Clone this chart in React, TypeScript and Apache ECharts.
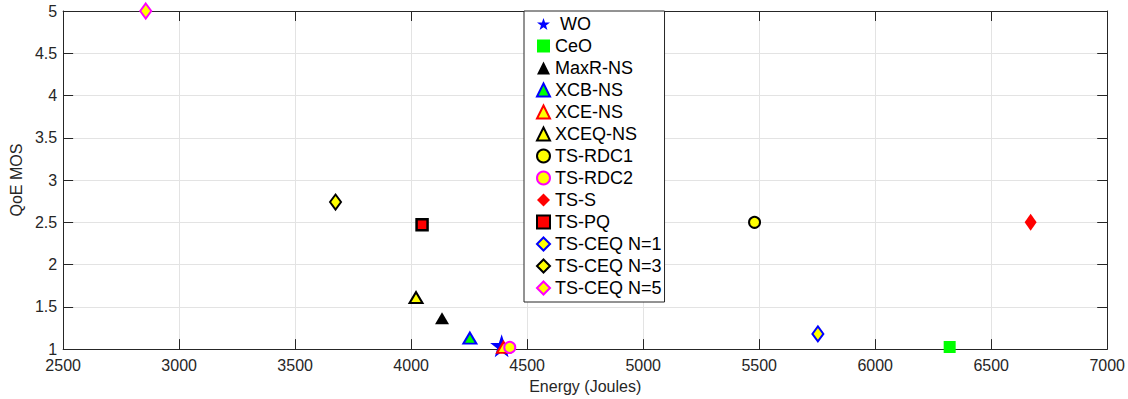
import React, { useEffect, useRef } from "react";
import * as echarts from "echarts";

const seriesNames = [
  "WO", "CeO", "MaxR-NS", "XCB-NS", "XCE-NS", "XCEQ-NS", "TS-RDC1", "TS-RDC2",
  "TS-S", "TS-PQ", "TS-CEQ N=1", "TS-CEQ N=3", "TS-CEQ N=5",
];
const energyValues = [4390, 6321, 4133, 4253, 4398, 4021, 5480, 4425, 6670, 4047, 5753, 3674, 2856];
const qoeValues = [1.04, 1.025, 1.365, 1.13, 1.02, 1.61, 2.5, 1.02, 2.5, 2.47, 1.18, 2.74, 5.0];

const STAR =
  "path://M50,0 L61.8,35.1 L98.9,35.1 L69,57.3 L79.4,91.9 L50,70.6 L20.6,91.9 L31,57.3 L1.1,35.1 L38.2,35.1 Z";

const markerStyles: any[] = [
  { symbol: STAR, size: 23, fill: "#0000ff", border: "#0000ff", bw: 0 },
  { symbol: "rect", size: 12, fill: "#00ff00", border: "#00ff00", bw: 0 },
  { symbol: "triangle", size: [14, 12], fill: "#000000", border: "#000000", bw: 0 },
  { symbol: "triangle", size: [13, 11], fill: "#00ff00", border: "#0000ff", bw: 2 },
  { symbol: "triangle", size: [13, 11], fill: "#ffff00", border: "#ff0000", bw: 2 },
  { symbol: "triangle", size: [13, 11], fill: "#ffff00", border: "#000000", bw: 2 },
  { symbol: "circle", size: 11, fill: "#ffff00", border: "#000000", bw: 2 },
  { symbol: "circle", size: 11, fill: "#ffff00", border: "#ff00ff", bw: 2 },
  { symbol: "diamond", size: [12, 17], fill: "#ff0000", border: "#ff0000", bw: 0 },
  { symbol: "rect", size: 11, fill: "#ff0000", border: "#000000", bw: 2.5 },
  { symbol: "diamond", size: [11, 15], fill: "#ffff00", border: "#0000ff", bw: 2 },
  { symbol: "diamond", size: [11, 15], fill: "#ffff00", border: "#000000", bw: 2 },
  { symbol: "diamond", size: [11, 15], fill: "#ffff00", border: "#ff00ff", bw: 2 },
];

const FONT = "'Liberation Sans', Arial, Helvetica, sans-serif";
const AXIS_COLOR = "#262626";
const GRID_COLOR = "#e3e3e3";

export default function App() {
  const ref = useRef<HTMLDivElement>(null);
  useEffect(() => {
    if (!ref.current) return;
    const chart = echarts.init(ref.current, undefined, { renderer: "svg" });
    const series = seriesNames.map((name, i) => {
      const m = markerStyles[i];
      return {
        name,
        type: "scatter",
        data: [[energyValues[i], qoeValues[i]]],
        symbol: m.symbol,
        symbolSize: m.size,
        clip: false,
        itemStyle: {
          color: m.fill,
          borderColor: m.border,
          borderWidth: m.bw,
          opacity: 1,
        },
        emphasis: { disabled: true },
      };
    });
    const legendData = seriesNames.map((name, i) => {
      const m = markerStyles[i];
      return {
        name,
        icon: m.symbol,
        itemStyle: {
          color: m.fill,
          borderColor: m.border,
          borderWidth: m.bw ? 2 : 0,
        },
      };
    });
    const baseAxis = {
      axisLine: { show: true, onZero: false, lineStyle: { color: AXIS_COLOR, width: 1 } },
      axisTick: { show: true, inside: true, length: 10, lineStyle: { color: AXIS_COLOR } },
    };
    const fmt = (v: number) => String(v);
    chart.setOption({
      animation: false,
      backgroundColor: "#ffffff",
      textStyle: { fontFamily: FONT },
      grid: { left: 58, right: 20, top: 11, bottom: 48, containLabel: false },
      legend: {
        orient: "vertical",
        left: 524,
        top: 11,
        data: legendData,
        itemWidth: 13,
        itemHeight: 13,
        itemGap: 4,
        itemTextGap: 12,
        padding: [4, 3, 5, 12],
        backgroundColor: "#ffffff",
        borderColor: AXIS_COLOR,
        borderWidth: 1,
        borderRadius: 0,
        selectedMode: false,
        textStyle: { fontFamily: FONT, fontSize: 18, color: "#000000", lineHeight: 17 },
        formatter: (name: string) => (name === "WO" ? "\u00a0WO" : name),
      },
      xAxis: [
        {
          ...baseAxis,
          type: "value",
          min: 2500,
          max: 7000,
          interval: 500,
          position: "bottom",
          name: "Energy (Joules)",
          nameLocation: "middle",
          nameGap: 27,
          nameTextStyle: { fontFamily: FONT, fontSize: 16, color: AXIS_COLOR },
          axisLabel: { fontFamily: FONT, fontSize: 16, color: AXIS_COLOR, margin: 8, formatter: fmt },
          splitLine: { show: true, lineStyle: { color: GRID_COLOR, width: 1 } },
        },
        {
          ...baseAxis,
          type: "value",
          min: 2500,
          max: 7000,
          interval: 500,
          position: "top",
          axisLabel: { show: false },
          splitLine: { show: false },
        },
      ],
      yAxis: [
        {
          ...baseAxis,
          type: "value",
          min: 1,
          max: 5,
          interval: 0.5,
          position: "left",
          name: "QoE MOS",
          nameLocation: "middle",
          nameGap: 32,
          nameTextStyle: { fontFamily: FONT, fontSize: 16, color: AXIS_COLOR },
          axisLabel: { fontFamily: FONT, fontSize: 16, color: AXIS_COLOR, margin: 6, formatter: fmt },
          splitLine: { show: true, lineStyle: { color: GRID_COLOR, width: 1 } },
        },
        {
          ...baseAxis,
          type: "value",
          min: 1,
          max: 5,
          interval: 0.5,
          position: "right",
          axisLabel: { show: false },
          splitLine: { show: false },
        },
      ],
      series,
    });
    return () => chart.dispose();
  }, []);
  return (
    <div
      ref={ref}
      style={{ position: "absolute", left: 0, top: 0, width: 1128, height: 399 }}
    />
  );
}
